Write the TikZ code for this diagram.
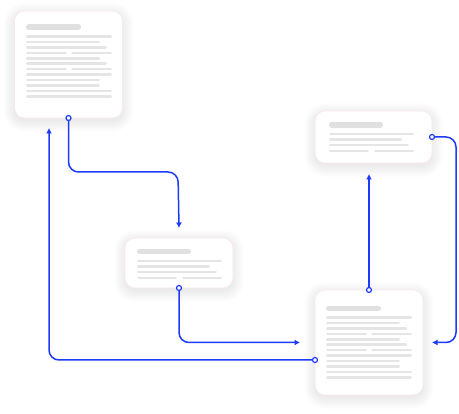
\documentclass[tikz,border=0pt]{standalone}
\usetikzlibrary{arrows.meta}
\pgfdeclarelayer{bg}
\pgfsetlayers{bg,main}
\definecolor{flow}{RGB}{28,58,250}
\definecolor{cardedge}{RGB}{251,232,238}
\definecolor{phline}{RGB}{229,229,229}
\definecolor{phhead}{RGB}{224,224,224}
\newcommand\tallcontent[3]{%
  \draw[phh] (#1+2.75,#2) -- (#1+52.25,#2);
  \foreach \w/\k in {86/0,74/1,81/2,74/4,81/5,86/7,74/8,74/9,86/10,86/11}
    \draw[phl] (#1+1.25,#3+\k*5.45) -- (#1+\w-1.25,#3+\k*5.45);
  \foreach \k in {3,6}{
    \draw[phl] (#1+1.25,#3+\k*5.45) -- (#1+41-1.25,#3+\k*5.45);
    \draw[phl] (#1+45+1.25,#3+\k*5.45) -- (#1+86-1.25,#3+\k*5.45);}
}
\newcommand\shortcontent[3]{%
  \draw[phh] (#1+2.75,#2) -- (#1+51.25,#2);
  \foreach \w/\k in {85/0,73/1,80/2}
    \draw[phl] (#1+1.25,#3+\k*5.6) -- (#1+\w-1.25,#3+\k*5.6);
  \draw[phl] (#1+1.25,#3+3*5.6) -- (#1+40-1.25,#3+3*5.6);
  \draw[phl] (#1+45+1.25,#3+3*5.6) -- (#1+85-1.25,#3+3*5.6);
}
\begin{document}
\begin{tikzpicture}[x=1pt,y=-1pt,
  card/.style={draw=cardedge, line width=0.7pt, fill=white, rounded corners=10pt,
    inner sep=0pt, outer sep=0pt},
  shade layer/.style={fill=black, fill opacity=0.009},
  phl/.style={draw=phline, line width=2.5pt, line cap=round},
  phh/.style={draw=phhead, line width=5.5pt, line cap=round},
  conn/.style={draw=flow, line width=1.5pt, rounded corners=10pt},
  arr/.style={conn, -{Latex[length=5.5pt,width=6pt]}},
  port/.style={circle, draw=flow, fill=white, line width=1.2pt, inner sep=0pt, minimum size=5pt}]
\useasboundingbox (0,0) rectangle (459,414);
% cards
\node[card, minimum width=108pt, minimum height=107pt] (A) at (68.5,64.5) {};
\node[card, minimum width=117pt, minimum height=52pt] (B) at (373.5,137) {};
\node[card, minimum width=108pt, minimum height=50pt] (C) at (179,263) {};
\node[card, minimum width=108pt, minimum height=105pt] (D) at (369,342.5) {};
% background and soft shadows
\begin{pgfonlayer}{bg}
\fill[white] (0,0) rectangle (459,414);
\foreach \n in {A,B,C,D}
  \foreach \i in {0,1.2,...,10.8}
    \fill[shade layer, rounded corners=10pt+\i pt]
      ([xshift=-\i pt, yshift=\i pt-3pt]\n.north west) rectangle
      ([xshift=\i pt, yshift=-\i pt-3pt]\n.south east);
\end{pgfonlayer}
% placeholder text
\tallcontent{26}{27}{36.5}
\tallcontent{326}{308.5}{317.5}
\shortcontent{329}{125}{134}
\shortcontent{137}{251.5}{261}
% port and arrow-end coordinates
\coordinate (pA) at (A.south);
\coordinate (pC) at (C.south);
\coordinate (pDt) at (D.north);
\coordinate (pDl) at (D.west |- 0,360);
\coordinate (pB) at (B.east);
\coordinate (Cin) at ([yshift=10pt]C.north);
\coordinate (Din) at ([xshift=-15pt]D.west);
\coordinate (Ain) at ([xshift=-19.5pt,yshift=-10pt]A.south);
\coordinate (Bin) at ([yshift=-11pt]pDt |- B.south);
\coordinate (Dr) at ([xshift=9pt]D.east);
% connectors
\draw[arr] (pA) |- (178,172) -- (Cin);
\draw[arr] (pC) |- (Din);
\draw[arr] (pDl) -| (Ain);
\draw[arr] (pDt) -- (Bin);
\draw[arr] (pB) -- ++(24,0) |- (Dr);
% ports
\node[port] (portA) at (pA) {};
\node[port] (portC) at (pC) {};
\node[port] (portDt) at (pDt) {};
\node[port] (portDl) at (pDl) {};
\node[port] (portB) at (pB) {};
\end{tikzpicture}
\end{document}
